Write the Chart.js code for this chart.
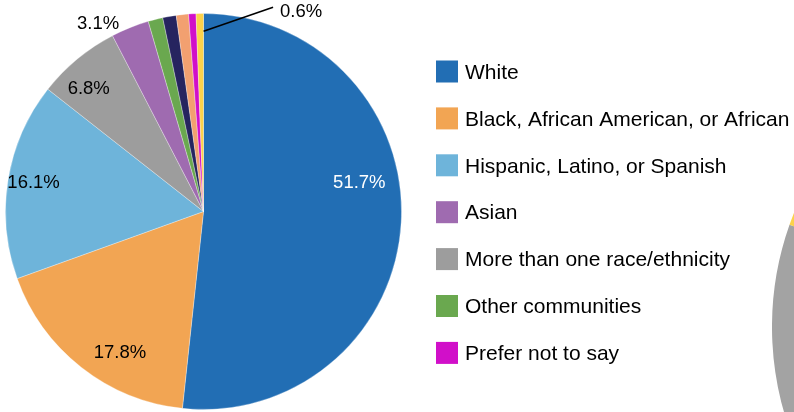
<!DOCTYPE html>
<html>
<head>
<meta charset="utf-8">
<script src="https://cdn.jsdelivr.net/npm/chart.js@4"></script>
<style>
  html, body { margin: 0; padding: 0; background: #fff; }
  #wrap { position: relative; width: 794px; height: 412px; overflow: hidden; }
  #mainChart { position: absolute; left: 0; top: 0; z-index: 2; }
  #sideChart { position: absolute; left: 772px; top: 20px; z-index: 1; }
</style>
</head>
<body>
<div id="wrap">
  <canvas id="sideChart" width="614" height="614"></canvas>
  <canvas id="mainChart" width="794" height="412"></canvas>
</div>
<script>
// slices, clockwise from 12 o'clock
const groups = [
  'White',
  'Black, African American, or African',
  'Hispanic, Latino, or Spanish',
  'More than one race/ethnicity',
  'Asian',
  'Other communities',
  'American Indian or Alaska Native',
  'Middle Eastern or North African',
  'Prefer not to say',
  'Native Hawaiian or Pacific Islander'
];
const shares = [51.7, 17.8, 16.1, 6.8, 3.1, 1.2, 1.1, 1.0, 0.6, 0.6];
const sliceColors = ['#226eb4', '#f2a553', '#6eb4da', '#9d9d9d', '#9f6bb0',
                     '#6aa84f', '#26245f', '#f2a070', '#d10fc9', '#fcd24a'];

// legend rows, top to bottom
const legendOrder = ['White', 'Black, African American, or African', 'Hispanic, Latino, or Spanish',
                     'Asian', 'More than one race/ethnicity', 'Other communities', 'Prefer not to say'];

// neighbouring pie, only its left edge shows
const sideShares = [55.6, 24.8, 2.4, 17.2];
const sideColors = ['#226eb4', '#a3a3a3', '#fcd24a', '#f2a553'];

const FONT = 'Arial, "Liberation Sans", sans-serif';

// percentage labels placed around each arc's mid angle
const sliceLabels = {
  id: 'sliceLabels',
  afterDatasetsDraw(chart, args, opts) {
    const meta = chart.getDatasetMeta(0);
    const values = chart.data.datasets[0].data;
    const ctx = chart.ctx;
    ctx.save();
    ctx.font = opts.font;
    ctx.textBaseline = 'middle';
    opts.items.forEach(it => {
      const p = meta.data[it.index].getProps(['x', 'y', 'startAngle', 'endAngle', 'outerRadius'], true);
      const a = (p.startAngle + p.endAngle) / 2 + it.shift * Math.PI / 180;
      const r = p.outerRadius * it.radius;
      let x = p.x + Math.cos(a) * r;
      let y = p.y + Math.sin(a) * r;
      const text = values[it.index].toFixed(1) + '%';
      ctx.fillStyle = it.color || '#000';
      if (it.leader) {
        ctx.strokeStyle = '#000';
        ctx.lineWidth = 1.6;
        ctx.beginPath();
        ctx.moveTo(x, y);
        x += it.leader[0];
        y += it.leader[1];
        ctx.lineTo(x, y);
        ctx.stroke();
        ctx.textAlign = 'left';
        ctx.fillText(text, x + 7, y + 4.5);
      } else {
        ctx.textAlign = 'center';
        ctx.fillText(text, x, y);
      }
    });
    ctx.restore();
  }
};

// square swatches + names on the right
const sideLegend = {
  id: 'sideLegend',
  afterDraw(chart, args, opts) {
    const ctx = chart.ctx;
    const labels = chart.data.labels;
    const colors = chart.data.datasets[0].backgroundColor;
    ctx.save();
    ctx.font = opts.font;
    ctx.textAlign = 'left';
    ctx.textBaseline = 'middle';
    legendOrder.forEach((name, k) => {
      const i = labels.indexOf(name);
      const cy = opts.top + k * opts.step;
      ctx.fillStyle = colors[i];
      ctx.fillRect(opts.left, cy - opts.box / 2, opts.box, opts.box);
      ctx.fillStyle = '#000';
      ctx.fillText(name, opts.left + opts.box + opts.gap, cy + 1.5);
    });
    ctx.restore();
  }
};

new Chart(document.getElementById('mainChart'), {
  type: 'pie',
  data: {
    labels: groups,
    datasets: [{
      data: shares,
      backgroundColor: sliceColors,
      borderColor: 'rgba(255,255,255,0.3)',
      borderWidth: 1
    }]
  },
  options: {
    responsive: false,
    animation: false,
    events: [],
    layout: { padding: { left: 5, top: 13, right: 392, bottom: 2 } },
    plugins: {
      legend: { display: false },
      tooltip: { enabled: false },
      sliceLabels: {
        font: '18.5px ' + FONT,
        items: [
          { index: 0, shift: -13.4, radius: 0.80, color: '#fff' },
          { index: 1, shift: -7.6, radius: 0.83 },
          { index: 2, shift: 0.3, radius: 0.87 },
          { index: 3, shift: -3.4, radius: 0.85 },
          { index: 4, shift: -7.6, radius: 1.085 },
          { index: 9, shift: 1.1, radius: 0.91, leader: [69.5, -24] }
        ]
      },
      sideLegend: { font: '21px ' + FONT, left: 436, top: 71.5, step: 46.9, box: 22, gap: 7 }
    }
  },
  plugins: [sliceLabels, sideLegend]
});

new Chart(document.getElementById('sideChart'), {
  type: 'pie',
  data: {
    labels: ['a', 'b', 'c', 'd'],
    datasets: [{ data: sideShares, backgroundColor: sideColors, borderWidth: 0 }]
  },
  options: {
    responsive: false,
    animation: false,
    events: [],
    plugins: { legend: { display: false }, tooltip: { enabled: false } }
  }
});
</script>
</body>
</html>
